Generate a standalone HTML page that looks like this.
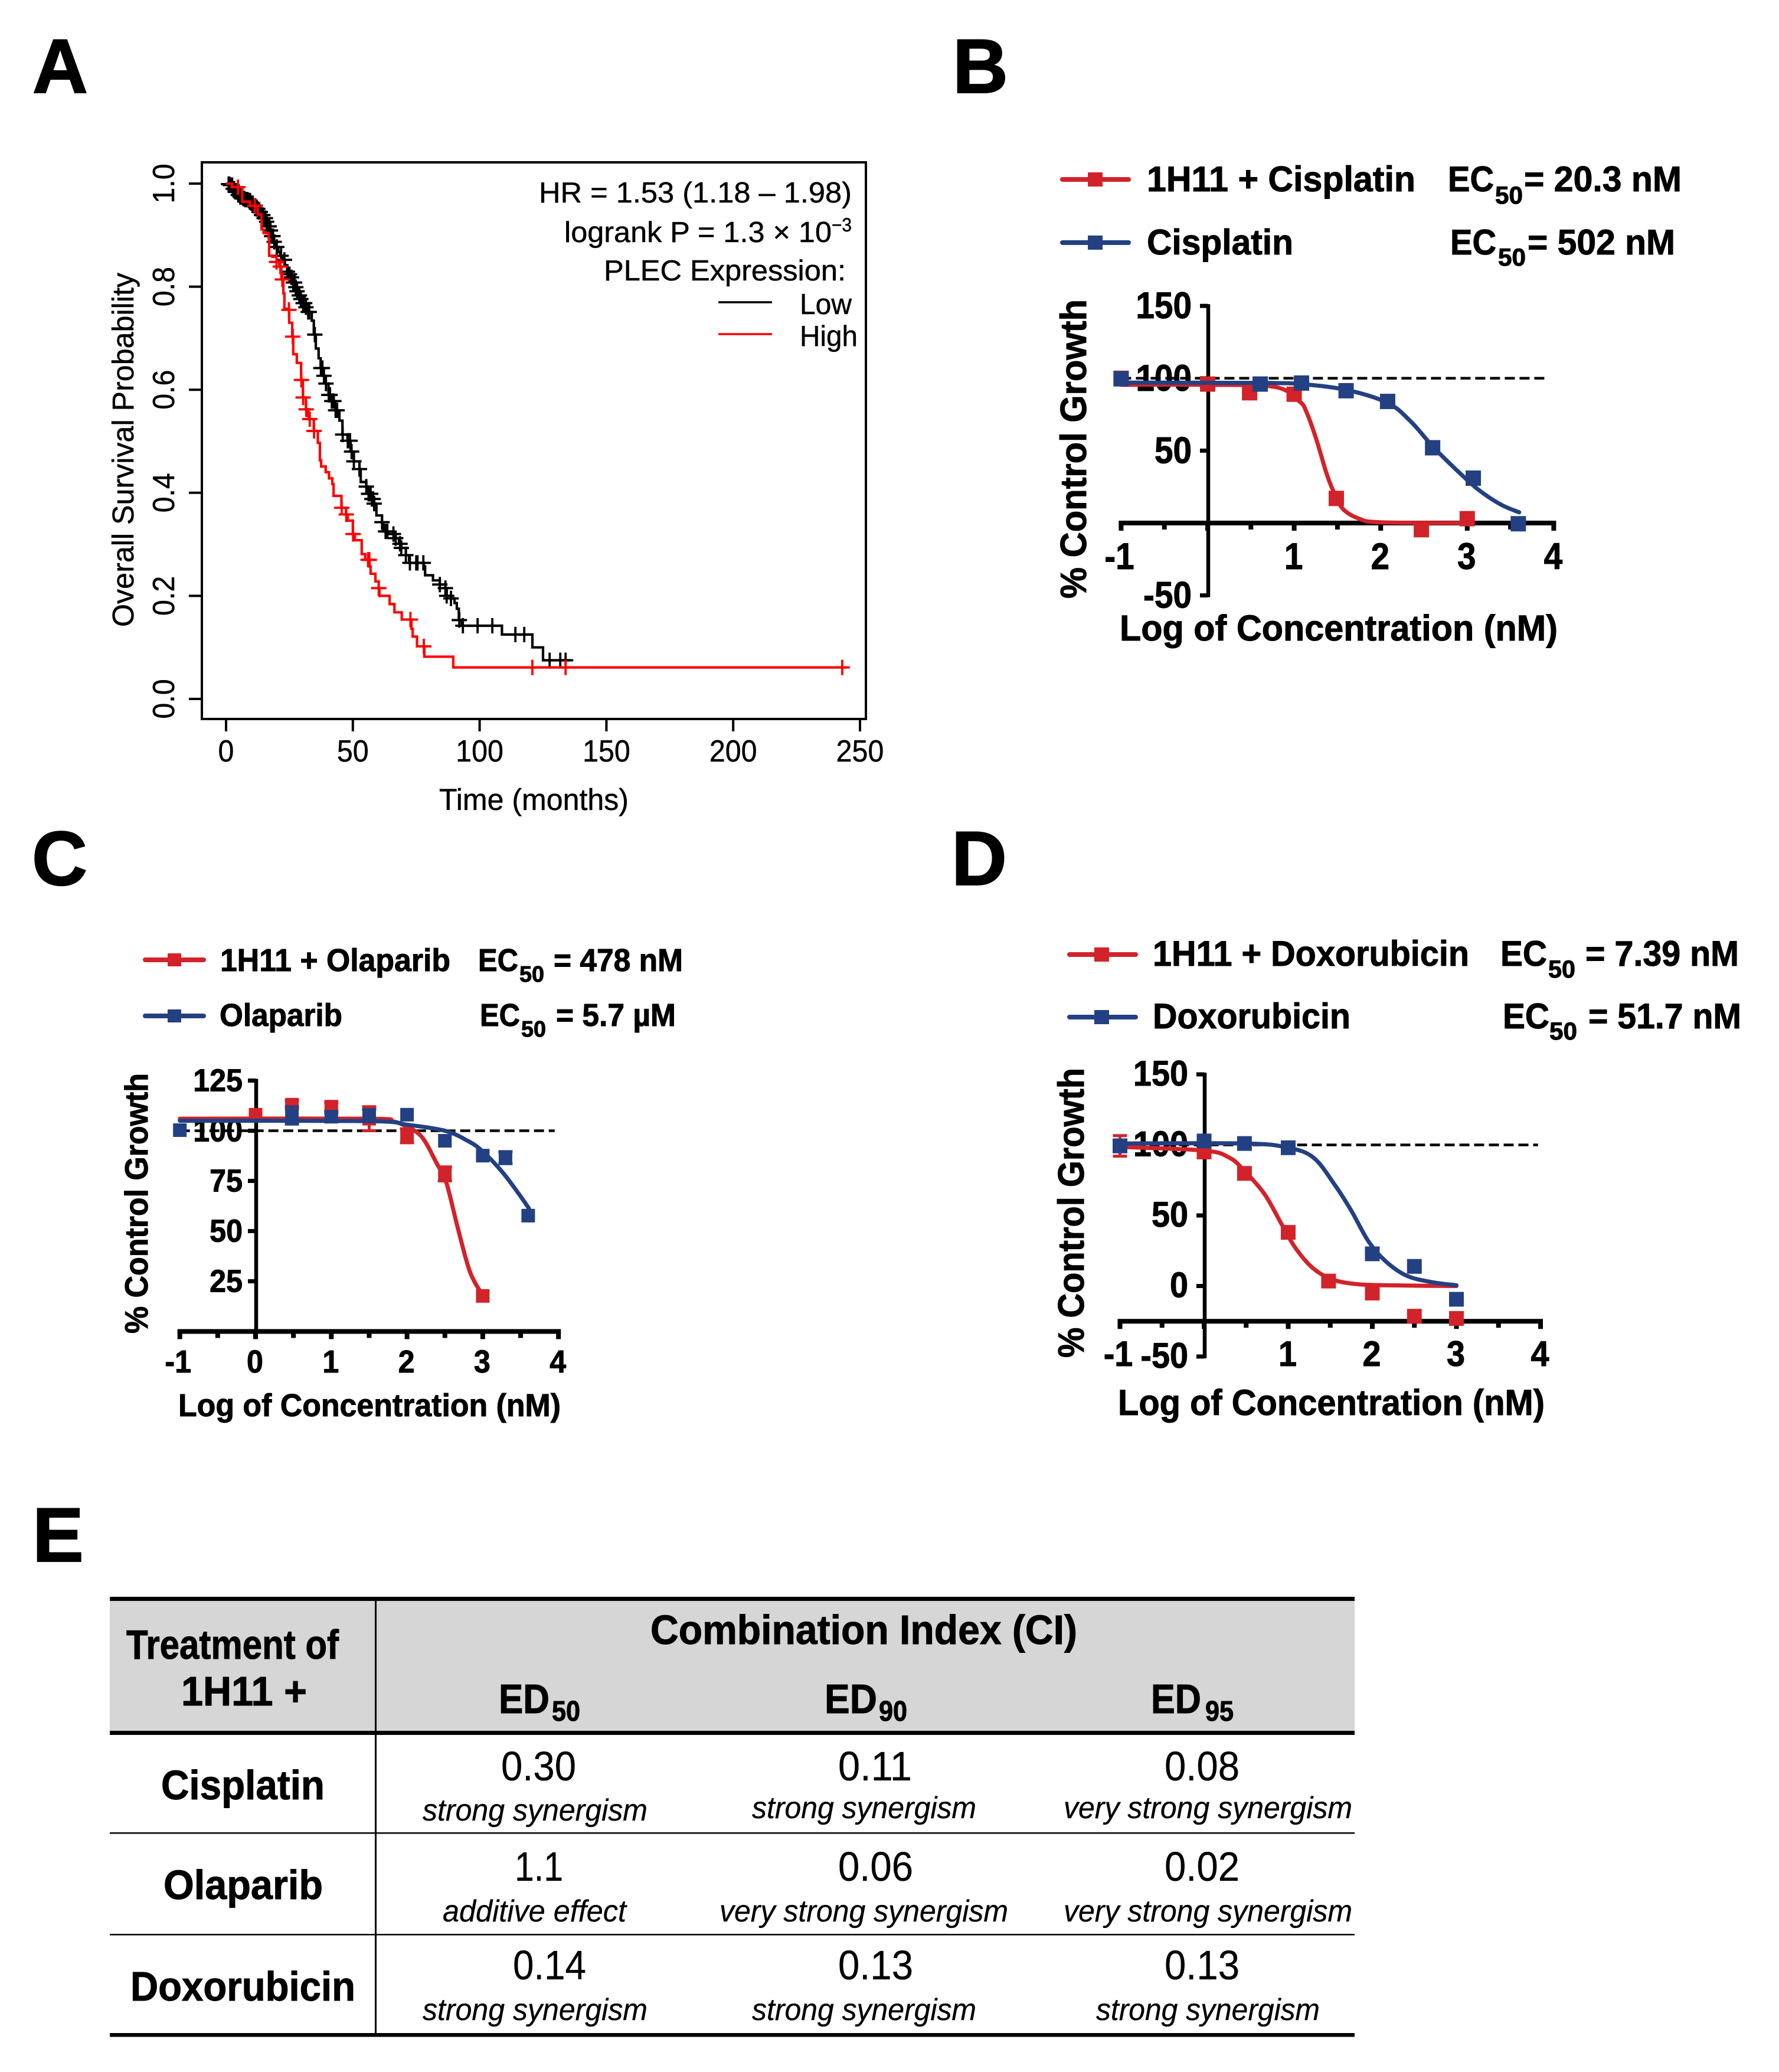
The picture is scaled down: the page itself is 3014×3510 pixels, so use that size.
<!DOCTYPE html>
<html lang="en">
<head>
<meta charset="utf-8">
<title>PLEC survival and drug combination figure</title>
<style>
html,body{margin:0;padding:0;background:#fff}
svg{display:block}
text{font-family:"Liberation Sans",Arial,sans-serif;fill:#000}
.b{font-weight:700;stroke:#000;stroke-width:1}
.big{stroke-width:2}
.i{font-style:italic}
#panelA text{stroke:#000;stroke-width:.5}
#panelE text:not(.b){stroke:#000;stroke-width:.35}
</style>
</head>
<body>
<svg id="fig" xmlns="http://www.w3.org/2000/svg" width="3014" height="3510" viewBox="0 0 3014 3510">
<rect width="3014" height="3510" fill="#fff"/>

<text class="b big" x="55" y="157" font-size="130">A</text>
<text class="b big" x="1614" y="157" font-size="130">B</text>
<text class="b big" x="54" y="1499" font-size="130">C</text>
<text class="b big" x="1612" y="1499" font-size="130">D</text>
<text class="b big" x="55" y="2645" font-size="130">E</text>

<!-- Panel A static text -->
<g id="panelA">
<text x="913" y="343" font-size="49" textLength="530" lengthAdjust="spacingAndGlyphs">HR = 1.53 (1.18 – 1.98)</text>
<text x="956" y="410" font-size="49" textLength="453" lengthAdjust="spacingAndGlyphs">logrank P = 1.3 × 10</text>
<text x="1409" y="392" font-size="32" textLength="34" lengthAdjust="spacingAndGlyphs">−3</text>
<text x="1023" y="475" font-size="49" textLength="410" lengthAdjust="spacingAndGlyphs">PLEC Expression:</text>
<line x1="1217" y1="512" x2="1308" y2="512" stroke="#000" stroke-width="3.5"/>
<line x1="1217" y1="566" x2="1308" y2="566" stroke="#f00" stroke-width="3.5"/>
<text x="1355" y="532" font-size="49" textLength="88" lengthAdjust="spacingAndGlyphs">Low</text>
<text x="1355" y="586" font-size="49" textLength="98" lengthAdjust="spacingAndGlyphs">High</text>
<text x="744" y="1372" font-size="51" textLength="321" lengthAdjust="spacingAndGlyphs">Time (months)</text>
<text transform="translate(226,1062) rotate(-90)" font-size="51" textLength="600" lengthAdjust="spacingAndGlyphs">Overall Survival Probability</text>
</g>

<!-- Panel B static text -->
<g id="panelB">
<line x1="1800" y1="304" x2="1912" y2="304" stroke="#d2232a" stroke-width="8" stroke-linecap="round"/>
<rect x="1843" y="292" width="25" height="24" fill="#d2232a"/>
<line x1="1800" y1="411" x2="1912" y2="411" stroke="#234182" stroke-width="8" stroke-linecap="round"/>
<rect x="1843" y="399" width="25" height="24" fill="#234182"/>
<text class="b" x="1943" y="324" font-size="60" textLength="455" lengthAdjust="spacingAndGlyphs">1H11 + Cisplatin</text>
<text class="b" x="2453" y="324" font-size="60" textLength="78" lengthAdjust="spacingAndGlyphs">EC</text>
<text class="b" x="2533" y="345" font-size="42" textLength="47" lengthAdjust="spacingAndGlyphs">50</text>
<text class="b" x="2582" y="324" font-size="60" textLength="267" lengthAdjust="spacingAndGlyphs">= 20.3 nM</text>
<text class="b" x="1943" y="431" font-size="60" textLength="248" lengthAdjust="spacingAndGlyphs">Cisplatin</text>
<text class="b" x="2457" y="431" font-size="60" textLength="78" lengthAdjust="spacingAndGlyphs">EC</text>
<text class="b" x="2538" y="450" font-size="42" textLength="47" lengthAdjust="spacingAndGlyphs">50</text>
<text class="b" x="2588" y="431" font-size="60" textLength="250" lengthAdjust="spacingAndGlyphs">= 502 nM</text>
<text class="b" transform="translate(1840,1014) rotate(-90)" font-size="62" textLength="507" lengthAdjust="spacingAndGlyphs">% Control Growth</text>
<text class="b" x="1897" y="1085" font-size="61" textLength="742" lengthAdjust="spacingAndGlyphs">Log of Concentration (nM)</text>
</g>

<!-- Panel C static text -->
<g id="panelC">
<line x1="246" y1="1626" x2="345" y2="1626" stroke="#d2232a" stroke-width="8" stroke-linecap="round"/>
<rect x="284" y="1615" width="23" height="22" fill="#d2232a"/>
<line x1="246" y1="1721" x2="345" y2="1721" stroke="#234182" stroke-width="8" stroke-linecap="round"/>
<rect x="284" y="1710" width="23" height="22" fill="#234182"/>
<text class="b" x="373" y="1645" font-size="54" textLength="390" lengthAdjust="spacingAndGlyphs">1H11 + Olaparib</text>
<text class="b" x="810" y="1645" font-size="54" textLength="68" lengthAdjust="spacingAndGlyphs">EC</text>
<text class="b" x="880" y="1663" font-size="38" textLength="42" lengthAdjust="spacingAndGlyphs">50</text>
<text class="b" x="938" y="1645" font-size="54" textLength="219" lengthAdjust="spacingAndGlyphs">= 478 nM</text>
<text class="b" x="372" y="1738" font-size="54" textLength="208" lengthAdjust="spacingAndGlyphs">Olaparib</text>
<text class="b" x="813" y="1738" font-size="54" textLength="68" lengthAdjust="spacingAndGlyphs">EC</text>
<text class="b" x="883" y="1756" font-size="38" textLength="42" lengthAdjust="spacingAndGlyphs">50</text>
<text class="b" x="942" y="1738" font-size="54" textLength="203" lengthAdjust="spacingAndGlyphs">= 5.7 µM</text>
<text class="b" transform="translate(250,2259) rotate(-90)" font-size="55" textLength="441" lengthAdjust="spacingAndGlyphs">% Control Growth</text>
<text class="b" x="302" y="2399" font-size="54" textLength="648" lengthAdjust="spacingAndGlyphs">Log of Concentration (nM)</text>
</g>

<!-- Panel D static text -->
<g id="panelD">
<line x1="1812" y1="1617" x2="1924" y2="1617" stroke="#d2232a" stroke-width="8" stroke-linecap="round"/>
<rect x="1854" y="1605" width="25" height="24" fill="#d2232a"/>
<line x1="1812" y1="1723" x2="1924" y2="1723" stroke="#234182" stroke-width="8" stroke-linecap="round"/>
<rect x="1854" y="1711" width="25" height="24" fill="#234182"/>
<text class="b" x="1953" y="1636" font-size="60" textLength="536" lengthAdjust="spacingAndGlyphs">1H11 + Doxorubicin</text>
<text class="b" x="2542" y="1636" font-size="60" textLength="79" lengthAdjust="spacingAndGlyphs">EC</text>
<text class="b" x="2623" y="1656" font-size="42" textLength="46" lengthAdjust="spacingAndGlyphs">50</text>
<text class="b" x="2686" y="1636" font-size="60" textLength="260" lengthAdjust="spacingAndGlyphs">= 7.39 nM</text>
<text class="b" x="1953" y="1742" font-size="60" textLength="335" lengthAdjust="spacingAndGlyphs">Doxorubicin</text>
<text class="b" x="2546" y="1742" font-size="60" textLength="79" lengthAdjust="spacingAndGlyphs">EC</text>
<text class="b" x="2625" y="1761" font-size="42" textLength="47" lengthAdjust="spacingAndGlyphs">50</text>
<text class="b" x="2691" y="1742" font-size="60" textLength="259" lengthAdjust="spacingAndGlyphs">= 51.7 nM</text>
<text class="b" transform="translate(1836,2300) rotate(-90)" font-size="62" textLength="491" lengthAdjust="spacingAndGlyphs">% Control Growth</text>
<text class="b" x="1894" y="2397" font-size="61" textLength="723" lengthAdjust="spacingAndGlyphs">Log of Concentration (nM)</text>
</g>

<!-- Panel E table -->
<g id="panelE">
<rect x="186" y="2708" width="2109" height="228" fill="#d6d6d6"/>
<rect x="186" y="2705" width="2109" height="7" fill="#000"/>
<rect x="186" y="2932" width="2109" height="7" fill="#000"/>
<rect x="186" y="3104" width="2109" height="2.5" fill="#000"/>
<rect x="186" y="3276" width="2109" height="2.5" fill="#000"/>
<rect x="186" y="3444" width="2109" height="6.5" fill="#000"/>
<rect x="635" y="2705" width="3" height="739" fill="#000"/>

<text class="b" x="214" y="2810" font-size="70" textLength="360" lengthAdjust="spacingAndGlyphs">Treatment of</text>
<text class="b" x="307" y="2889" font-size="70" textLength="213" lengthAdjust="spacingAndGlyphs">1H11 +</text>
<text class="b" x="1102" y="2785" font-size="70" textLength="723" lengthAdjust="spacingAndGlyphs">Combination Index (CI)</text>
<text class="b" x="845" y="2902" font-size="70" textLength="86" lengthAdjust="spacingAndGlyphs">ED</text>
<text class="b" x="935" y="2915" font-size="48" textLength="48" lengthAdjust="spacingAndGlyphs">50</text>
<text class="b" x="1397" y="2902" font-size="70" textLength="89" lengthAdjust="spacingAndGlyphs">ED</text>
<text class="b" x="1489" y="2915" font-size="48" textLength="48" lengthAdjust="spacingAndGlyphs">90</text>
<text class="b" x="1950" y="2902" font-size="70" textLength="85" lengthAdjust="spacingAndGlyphs">ED</text>
<text class="b" x="2042" y="2915" font-size="48" textLength="48" lengthAdjust="spacingAndGlyphs">95</text>

<text class="b" x="273" y="3048" font-size="70" textLength="277" lengthAdjust="spacingAndGlyphs">Cisplatin</text>
<text class="b" x="277" y="3217" font-size="70" textLength="270" lengthAdjust="spacingAndGlyphs">Olaparib</text>
<text class="b" x="221" y="3389" font-size="70" textLength="381" lengthAdjust="spacingAndGlyphs">Doxorubicin</text>

<text x="849" y="3016" font-size="70" textLength="127" lengthAdjust="spacingAndGlyphs">0.30</text>
<text class="i" x="716" y="3084" font-size="52" textLength="381" lengthAdjust="spacingAndGlyphs">strong synergism</text>
<text x="1420" y="3016" font-size="70" textLength="125" lengthAdjust="spacingAndGlyphs">0.11</text>
<text class="i" x="1274" y="3080" font-size="52" textLength="380" lengthAdjust="spacingAndGlyphs">strong synergism</text>
<text x="1973" y="3016" font-size="70" textLength="127" lengthAdjust="spacingAndGlyphs">0.08</text>
<text class="i" x="1802" y="3080" font-size="52" textLength="489" lengthAdjust="spacingAndGlyphs">very strong synergism</text>

<text x="872" y="3186" font-size="70" textLength="82" lengthAdjust="spacingAndGlyphs">1.1</text>
<text class="i" x="750" y="3255" font-size="52" textLength="311" lengthAdjust="spacingAndGlyphs">additive effect</text>
<text x="1420" y="3186" font-size="70" textLength="127" lengthAdjust="spacingAndGlyphs">0.06</text>
<text class="i" x="1219" y="3255" font-size="52" textLength="489" lengthAdjust="spacingAndGlyphs">very strong synergism</text>
<text x="1973" y="3186" font-size="70" textLength="127" lengthAdjust="spacingAndGlyphs">0.02</text>
<text class="i" x="1802" y="3255" font-size="52" textLength="489" lengthAdjust="spacingAndGlyphs">very strong synergism</text>

<text x="869" y="3353" font-size="70" textLength="124" lengthAdjust="spacingAndGlyphs">0.14</text>
<text class="i" x="716" y="3422" font-size="52" textLength="381" lengthAdjust="spacingAndGlyphs">strong synergism</text>
<text x="1420" y="3353" font-size="70" textLength="127" lengthAdjust="spacingAndGlyphs">0.13</text>
<text class="i" x="1274" y="3422" font-size="52" textLength="380" lengthAdjust="spacingAndGlyphs">strong synergism</text>
<text x="1973" y="3353" font-size="70" textLength="127" lengthAdjust="spacingAndGlyphs">0.13</text>
<text class="i" x="1857" y="3422" font-size="52" textLength="379" lengthAdjust="spacingAndGlyphs">strong synergism</text>
</g>
</svg>

<script>
/* ---------- Panel A data ---------- */
const kmXTicks = [0, 50, 100, 150, 200, 250];
const kmYTicks = [0, 0.2, 0.4, 0.6, 0.8, 1];
const kmYTickLabels = ['0.0', '0.2', '0.4', '0.6', '0.8', '1.0'];
const kmLowTimes = [0,.8,1.6,2.6,3.6,4.7,5.6,6.6,7.6,8.6,9.6,10.6,11.7,12.7,13.7,14.8,15.6,16.3,17.1,17.9,18.7,19.6,20.6,21.4,22.2,23.2,24.1,24.9,25.7,26.4,27.2,28,28.8,29.5,30.3,31.3,32.3,33.8,34.6,35.4,36.5,37.3,38.5,39.3,40.4,41.6,43.1,44.7,45.9,47.9,49.1,50.4,52.6,53.1,55.3,56.2,57.5,58.4,59.3,61.5,62,63.8,66.4,68.2,69.1,70.9,72.2,78,78.5,81.6,84.3,86.5,87,88.7,90.1,91,91.8,93,108.8,120.8,125];
const kmLowSurvival = [1,.999,.997,.99,.984,.978,.974,.971,.969,.967,.962,.957,.951,.945,.939,.933,.926,.917,.909,.898,.887,.877,.867,.86,.852,.84,.829,.824,.818,.808,.799,.791,.783,.776,.768,.76,.751,.734,.707,.680,.661,.642,.627,.612,.590,.578,.560,.540,.513,.501,.480,.461,.446,.421,.412,.398,.388,.379,.356,.343,.325,.320,.312,.301,.293,.279,.264,.257,.240,.230,.222,.215,.200,.195,.186,.175,.153,.142,.125,.100,.075];
const kmLowEnd = 136.4;
const kmLowCensored = [1,1.3,1.7,2,2.4,2.8,3.2,3.6,4,4.4,4.8,5.2,5.6,6,6.4,6.8,7.2,7.6,8,8.5,9,9.5,10,10.5,11,11.5,12,12.5,13,13.5,14,14.5,15,15.5,16,16.5,17,17.5,18,18.5,19,20,21.7,23,24.2,25,25.8,26.5,27,27.5,28,28.9,29.5,30.4,31,31.5,32.4,32.8,35,37.4,38,38.6,39.4,40.5,41,41.7,42.5,43.2,43.8,46,48,48.9,49.5,50.4,52.6,55.3,56.2,57,57.5,58,58.4,61.5,62.9,63.6,66,66.9,68.6,69.1,70.9,72.5,75,75.5,77.8,84.3,86.5,87,88.7,92,93.4,99.2,105,114.1,117.6,127.6,131.8,133.9];
const kmHighTimes = [0,2.4,6.4,9.4,12.5,14,14.8,16.8,17,18.3,19.9,21,21.8,22.6,23,24.5,24.9,26.1,26.5,27.9,29.6,30.3,31.5,32.5,34.6,36.2,37,37.5,39.3,40.6,41.9,42.4,45.5,47.3,48,50,50.8,53.5,54.9,56.6,57,58.9,60.2,60.5,64.5,66.4,69.3,73.1,73.6,75.3,78.2,89.6];
const kmHighSurvival = [1,.993,.965,.957,.94,.911,.904,.894,.860,.858,.848,.839,.814,.787,.757,.755,.730,.703,.669,.652,.619,.585,.562,.543,.52,.497,.463,.451,.44,.428,.417,.394,.371,.358,.346,.32,.308,.281,.27,.257,.243,.228,.215,.20,.184,.168,.154,.136,.121,.102,.082,.0611];
const kmHighEnd = 245;
const kmHighCensored = [4.7,11.3,19.9,21.4,22.2,24.8,26.3,29.7,30.4,31.6,33,34.7,45.6,47.4,50.1,56,56.5,60.2,72.7,78,120.8,133.9,243];

/* ---------- Panel B data ---------- */
const bXTicks = [-1, 0, 1, 2, 3, 4];
const bXMinorTicks = [-0.5, 0.5, 1.5, 2.5, 3.5];
const bXTickLabels = [-1, 1, 2, 3, 4];
const bYTicks = [150, 100, 50, -50];
const bRedDose = [-1, 0, 0.485, 1, 1.487, 2.47, 3];
const bRedGrowth = [100, 96, 90, 89, 17, -4.6, 3];
const bRedError = [0, 0, 0, 0, 0, 0, 0];
const bBlueDose = [-1, 0.607, 1.085, 1.6, 2.08, 2.6, 3.07, 3.59];
const bBlueGrowth = [99.6, 96, 96.7, 91.4, 84, 52, 31, -0.5];
const bBlueError = [0, 0, 0, 0, 0, 0, 0, 0];
const bRedCurveDose = [-1, 0, 0.78, 1.06, 1.14, 1.255, 1.37, 1.446, 1.56, 1.75, 2, 3];
const bRedCurveGrowth = [95.5, 95.5, 94, 84, 77, 58, 35, 23, 10, 3, 0.5, 0];
const bBlueCurveDose = [-1, 0.6, 1.08, 1.6, 2.08, 2.35, 2.6, 2.87, 3.13, 3.39, 3.6];
const bBlueCurveGrowth = [97, 96.8, 96, 92, 83, 70, 53, 37, 23, 12.7, 7.4];

/* ---------- Panel C data ---------- */
const cXTicks = [-1, 0, 1, 2, 3, 4];
const cXMinorTicks = [-0.5, 0.5, 1.5, 2.5, 3.5];
const cXTickLabels = [-1, 0, 1, 2, 3, 4];
const cYTicks = [125, 100, 75, 50, 25];
const cRedDose = [0, 0.48, 1, 1.5, 2, 2.5, 3];
const cRedGrowth = [108, 113, 112, 106, 97.5, 78.5, 17.7];
const cRedError = [0, 2, 2, 6, 3.5, 3.5, 0];
const cBlueDose = [-1, 0.48, 1, 1.5, 2, 2.5, 3, 3.3, 3.6];
const cBlueGrowth = [100.3, 107.6, 107, 107.6, 108, 95, 87.6, 86.6, 57.7];
const cBlueError = [0, 4.3, 2, 3, 0, 0, 0, 3, 0];
const cRedCurveDose = [-1, 1.5, 1.8, 2, 2.2, 2.39, 2.52, 2.67, 2.83, 2.99];
const cRedCurveGrowth = [106, 106, 104.8, 102, 96.7, 83.9, 74, 51.6, 29.8, 18.5];
const cBlueCurveDose = [-1, 1.5, 2, 2.5, 2.8, 2.99, 3.25, 3.46, 3.61];
const cBlueCurveGrowth = [105, 104.8, 103, 100, 95, 90, 79.8, 69.4, 61.3];

/* ---------- Panel D data ---------- */
const dXTicks = [-1, 0, 1, 2, 3, 4];
const dXMinorTicks = [-0.5, 0.5, 1.5, 2.5, 3.5];
const dXTickLabels = [-1, 1, 2, 3, 4];
const dYTicks = [150, 100, 50, 0, -50];
const dRedDose = [-1, 0, 0.48, 1, 1.48, 2, 2.5, 3];
const dRedGrowth = [99.3, 95, 79.8, 38, 3.5, -5, -21.4, -23];
const dRedError = [7.3, 0, 0, 0, 0, 0, 0, 0];
const dBlueDose = [-1, 0, 0.48, 1, 2, 2.5, 3];
const dBlueGrowth = [99.3, 102.8, 101, 98, 22.8, 13.9, -9.4];
const dBlueError = [0, 0, 0, 0, 0, 0, 0];
const dRedCurveDose = [-1, 0, 0.3, 0.48, 0.72, 0.92, 1.08, 1.28, 1.5, 1.77, 2.16, 3];
const dRedCurveGrowth = [98.6, 96, 91, 81.6, 65, 44, 27.5, 13.4, 5.2, 1.6, 0.5, 0];
const dBlueCurveDose = [-1, 0.5, 1, 1.3, 1.55, 1.75, 1.95, 2.15, 2.4, 2.7, 3];
const dBlueCurveGrowth = [101, 101, 98, 91, 72, 53.4, 32, 18, 7.5, 2.8, 0.5];

const SVG_NS = 'http://www.w3.org/2000/svg';
const RED = '#d2232a';
const BLUE = '#234182';

function make(tag, parent, name, attrs) {
  const el = document.createElementNS(SVG_NS, tag);
  
  
  for (const k in attrs) el.setAttribute(k, attrs[k]);
  parent.appendChild(el);
  return el;
}

/* ---------- Panel A drawing ---------- */
(function drawSurvival() {
  const g = document.getElementById('panelA');
  const xAt = t => 383 + 4.296 * t;
  const yAt = s => 1184 - 873 * s;
  make('rect', g, 'plot-frame', {x: 342, y: 275, width: 1125, height: 943, fill: 'none', stroke: '#000', 'stroke-width': 4});
  kmXTicks.forEach(v => {
    make('line', g, 'x-tick', {x1: xAt(v), x2: xAt(v), y1: 1218, y2: 1239, stroke: '#000', 'stroke-width': 4});
    const t = make('text', g, 'x-tick-label', {transform: 'translate(' + xAt(v) + ',1290) scale(.93,1)', 'font-size': 52, 'text-anchor': 'middle'});
    t.textContent = v;
  });
  kmYTicks.forEach((v, i) => {
    make('line', g, 'y-tick', {x1: 320, x2: 342, y1: yAt(v), y2: yAt(v), stroke: '#000', 'stroke-width': 4});
    const t = make('text', g, 'y-tick-label', {transform: 'translate(295,' + yAt(v) + ') rotate(-90) scale(.93,1)', 'font-size': 52, 'text-anchor': 'middle'});
    t.textContent = kmYTickLabels[i];
  });
  const lookup = (ts, ss, t) => {
    let v = ss[0];
    for (let i = 0; i < ts.length; i++) if (ts[i] <= t) v = ss[i];
    return v;
  };
  const series = (name, ts, ss, end, cens, color) => {
    cens.forEach(t => {
      const x = xAt(t), y = yAt(lookup(ts, ss, t));
      make('path', g, name + '-censor-mark', {d: 'M' + (x - 13) + ' ' + y + 'H' + (x + 13) + 'M' + x + ' ' + (y - 13) + 'V' + (y + 13), stroke: color, 'stroke-width': 3.8, fill: 'none'});
    });
    let d = 'M' + xAt(ts[0]) + ' ' + yAt(ss[0]);
    for (let i = 1; i < ts.length; i++) d += 'H' + xAt(ts[i]) + 'V' + yAt(ss[i]);
    d += 'H' + xAt(end);
    make('path', g, name + '-survival-line', {d: d, stroke: color, 'stroke-width': 4.2, fill: 'none'});
  };
  series('low', kmLowTimes, kmLowSurvival, kmLowEnd, kmLowCensored, '#000');
  series('high', kmHighTimes, kmHighSurvival, kmHighEnd, kmHighCensored, '#f00');
})();

/* ---------- Dose response drawing ---------- */
function smooth(px, py) {
  let d = 'M' + px[0] + ' ' + py[0];
  for (let i = 0; i < px.length - 1; i++) {
    const a = Math.max(i - 1, 0), b = Math.min(i + 2, px.length - 1);
    const c1x = px[i] + (px[i + 1] - px[a]) / 6, c1y = py[i] + (py[i + 1] - py[a]) / 6;
    const c2x = px[i + 1] - (px[b] - px[i]) / 6, c2y = py[i + 1] - (py[b] - py[i]) / 6;
    d += 'C' + c1x + ' ' + c1y + ' ' + c2x + ' ' + c2y + ' ' + px[i + 1] + ' ' + py[i + 1];
  }
  return d;
}

function drawDose(cfg) {
  const g = document.getElementById(cfg.id);
  const xAt = v => cfg.x0 + cfg.xScale * v;
  const yAt = v => cfg.y0 - cfg.yScale * v;
  const axisY = yAt(cfg.xAxisAt);

  cfg.yLabels.forEach(v => {
    const t = make('text', g, 'y-tick-label', {class: 'b', transform: 'translate(' + cfg.yLabelRight + ',' + (yAt(v) + cfg.yLabelShift) + ') scale(' + cfg.squeeze + ',1)', 'font-size': cfg.font, 'text-anchor': 'end'});
    t.textContent = v;
  });
  cfg.xLabels.forEach(v => {
    const t = make('text', g, 'x-tick-label', {class: 'b', transform: 'translate(' + (xAt(v) - (v < 0 ? 3 : 1)) + ',' + cfg.xLabelY + ') scale(' + cfg.squeeze + ',1)', 'font-size': cfg.font, 'text-anchor': 'middle'});
    t.textContent = v;
  });

  make('line', g, 'y-axis', {x1: cfg.x0 + 1, x2: cfg.x0 + 1, y1: yAt(cfg.yTop) - 3, y2: yAt(cfg.yBottom) + 3, stroke: '#000', 'stroke-width': 6.5});
  make('line', g, 'x-axis', {x1: xAt(-1) - 4, x2: xAt(4) + 4, y1: axisY, y2: axisY, stroke: '#000', 'stroke-width': 8});
  cfg.yLabels.forEach(v => {
    make('line', g, 'y-tick', {x1: cfg.x0 - 13, x2: cfg.x0, y1: yAt(v), y2: yAt(v), stroke: '#000', 'stroke-width': 7});
  });
  cfg.xTicks.forEach(v => {
    make('line', g, 'x-tick', {x1: xAt(v), x2: xAt(v), y1: axisY, y2: axisY + 13, stroke: '#000', 'stroke-width': 8});
  });
  cfg.xMinor.forEach(v => {
    make('line', g, 'x-minor-tick', {x1: xAt(v), x2: xAt(v), y1: axisY, y2: axisY + 11, stroke: '#000', 'stroke-width': 8});
  });
  make('line', g, 'reference-line-100', {x1: xAt(-1), x2: xAt(cfg.dashEnd), y1: yAt(100), y2: yAt(100), stroke: '#000', 'stroke-width': 4.5, 'stroke-dasharray': '17 8'});

  const s = cfg.marker, h = s / 2;
  const series = (name, color, cx, cy, mx, my, me) => {
    make('path', g, name + '-fit-curve', {d: smooth(cx.map(xAt), cy.map(yAt)), fill: 'none', stroke: color, 'stroke-width': 7, 'stroke-linecap': 'round'});
    mx.forEach((v, i) => {
      if (me[i] > 0) {
        const x = xAt(v), y1 = yAt(my[i] + me[i]), y2 = yAt(my[i] - me[i]);
        make('path', g, name + '-error-bar', {d: 'M' + (x - 12) + ' ' + y1 + 'H' + (x + 12) + 'M' + x + ' ' + y1 + 'V' + y2 + 'M' + (x - 12) + ' ' + y2 + 'H' + (x + 12), fill: 'none', stroke: color, 'stroke-width': 5});
      }
      make('rect', g, name + '-point', {x: xAt(v) - h, y: yAt(my[i]) - h, width: s, height: s, fill: color});
    });
  };
  series('combo', RED, cfg.rcx, cfg.rcy, cfg.rx, cfg.ry, cfg.re);
  series('single', BLUE, cfg.bcx, cfg.bcy, cfg.bx, cfg.by, cfg.be);
}

drawDose({id: 'panelB', x0: 2046, xScale: 146.6, y0: 886, yScale: 2.452, xAxisAt: 0, yTop: 150, yBottom: -50,
  yLabels: bYTicks, yLabelRight: 2019, yLabelShift: 21, xLabels: bXTickLabels, xLabelY: 964, font: 63, squeeze: 0.9,
  xTicks: bXTicks, xMinor: bXMinorTicks, dashEnd: 3.94, marker: 26,
  rx: bRedDose, ry: bRedGrowth, re: bRedError, rcx: bRedCurveDose, rcy: bRedCurveGrowth,
  bx: bBlueDose, by: bBlueGrowth, be: bBlueError, bcx: bBlueCurveDose, bcy: bBlueCurveGrowth});

drawDose({id: 'panelC', x0: 433, xScale: 128.3, y0: 2255.5, yScale: 3.4, xAxisAt: 0, yTop: 125, yBottom: 0,
  yLabels: cYTicks, yLabelRight: 411, yLabelShift: 18, xLabels: cXTickLabels, xLabelY: 2325, font: 54, squeeze: 0.93,
  xTicks: cXTicks, xMinor: cXMinorTicks, dashEnd: 3.95, marker: 23,
  rx: cRedDose, ry: cRedGrowth, re: cRedError, rcx: cRedCurveDose, rcy: cRedCurveGrowth,
  bx: cBlueDose, by: cBlueGrowth, be: cBlueError, bcx: cBlueCurveDose, bcy: cBlueCurveGrowth});

drawDose({id: 'panelD', x0: 2040, xScale: 142.5, y0: 2178.5, yScale: 2.39, xAxisAt: -25, yTop: 150, yBottom: -50,
  yLabels: dYTicks, yLabelRight: 2013, yLabelShift: 19, xLabels: dXTickLabels, xLabelY: 2314, font: 60, squeeze: 0.93,
  xTicks: dXTicks, xMinor: dXMinorTicks, dashEnd: 3.97, marker: 25,
  rx: dRedDose, ry: dRedGrowth, re: dRedError, rcx: dRedCurveDose, rcy: dRedCurveGrowth,
  bx: dBlueDose, by: dBlueGrowth, be: dBlueError, bcx: dBlueCurveDose, bcy: dBlueCurveGrowth});
</script>
</body>
</html>
